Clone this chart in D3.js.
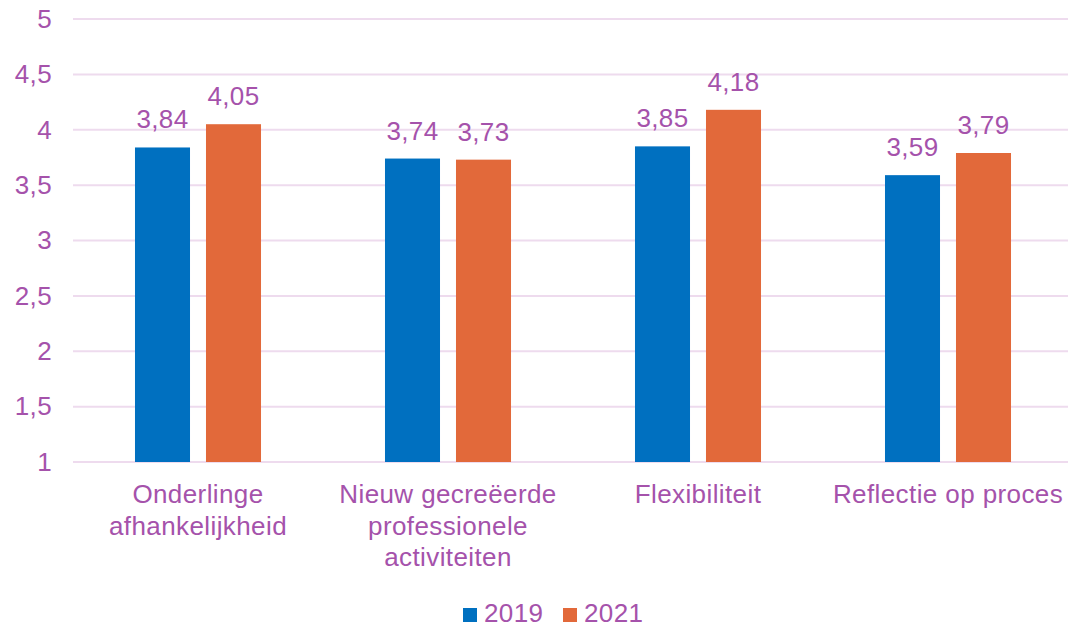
<!DOCTYPE html>
<html>
<head>
<meta charset="utf-8">
<script src="https://cdn.jsdelivr.net/npm/d3@7"></script>
<style>
  body { margin: 0; background: #fff; }
  text { font-family: "Liberation Sans", Arial, sans-serif; fill: #a552ab; letter-spacing: 0.4px; }
</style>
</head>
<body>
<div id="chart-area"></div>
<script>
// data
var categories = [
    ["Onderlinge", "afhankelijkheid"],
    ["Nieuw gecreëerde", "professionele", "activiteiten"],
    ["Flexibiliteit"],
    ["Reflectie op proces"]
];
var series = ["2019", "2021"];
var values2019 = [3.84, 3.74, 3.85, 3.59];
var values2021 = [4.05, 3.73, 4.18, 3.79];
var yTicks = [1, 1.5, 2, 2.5, 3, 3.5, 4, 4.5, 5];

var colors = {"2019": "#0070c0", "2021": "#e2693a"};
var w = 1068, h = 626;

var data = categories.map((c, i) => {
    return {cat: i, vals: [
        {s: "2019", v: values2019[i]},
        {s: "2021", v: values2021[i]}
    ]};
});

var svg = d3.select("#chart-area").append("svg")
    .attr("width", w)
    .attr("height", h);

var x = d3.scaleBand()
    .domain(d3.range(categories.length))
    .range([73, 1073]);

var xs = d3.scaleBand()
    .domain(series)
    .range([0, x.bandwidth()])
    .paddingInner(0.225)
    .paddingOuter(0.873);

var y = d3.scaleLinear()
    .domain([1, 5])
    .range([462, 19]);

var fmt = (d) => { return String(d).replace(".", ","); };

// gridlines
svg.append("g")
    .selectAll("line")
    .data(yTicks)
    .enter().append("line")
    .attr("x1", 73)
    .attr("x2", w)
    .attr("y1", (d) => { return y(d); })
    .attr("y2", (d) => { return y(d); })
    .attr("stroke", "#eedbee")
    .attr("stroke-width", 2);

// y axis labels
var left = d3.axisLeft(y)
    .tickValues(yTicks)
    .tickSize(0)
    .tickPadding(0)
    .tickFormat(fmt);

var y_group = svg.append("g")
    .attr("transform", "translate(52, 0)")
    .call(left);
y_group.select(".domain").remove();
y_group.selectAll("text")
    .attr("font-size", "26px")
    .attr("fill", null)
    .style("font-family", null);

// bars
var groups = svg.append("g")
    .selectAll("g")
    .data(data)
    .enter().append("g")
    .attr("transform", (d) => { return "translate(" + x(d.cat) + ",0)"; });

groups.selectAll("rect")
    .data((d) => { return d.vals; })
    .enter().append("rect")
    .attr("x", (d) => { return xs(d.s); })
    .attr("y", (d) => { return y(d.v); })
    .attr("width", xs.bandwidth())
    .attr("height", (d) => { return y(1) - y(d.v); })
    .attr("fill", (d) => { return colors[d.s]; });

groups.selectAll("text.val")
    .data((d) => { return d.vals; })
    .enter().append("text")
    .attr("class", "val")
    .attr("x", (d) => { return xs(d.s) + xs.bandwidth() / 2; })
    .attr("y", (d) => { return y(d.v) - 19; })
    .attr("text-anchor", "middle")
    .attr("font-size", "26px")
    .text((d) => { return fmt(d.v); });

// category labels
var catLabels = svg.append("g")
    .selectAll("text")
    .data(categories)
    .enter().append("text")
    .attr("x", (d, i) => { return x(i) + x.bandwidth() / 2; })
    .attr("y", 503)
    .attr("text-anchor", "middle")
    .attr("font-size", "26px");

catLabels.selectAll("tspan")
    .data((d) => { return d; })
    .enter().append("tspan")
    .attr("x", function () { return this.parentNode.getAttribute("x"); })
    .attr("dy", (d, i) => { return i === 0 ? 0 : 31.5; })
    .text((d) => { return d; });

// legend
var legend = svg.append("g")
    .attr("transform", "translate(463, 608)");

var item = legend.selectAll("g")
    .data(series)
    .enter().append("g")
    .attr("transform", (d, i) => { return "translate(" + (i * 100) + ",0)"; });

item.append("rect")
    .attr("width", 14)
    .attr("height", 14)
    .attr("fill", (d) => { return colors[d]; });

item.append("text")
    .attr("x", 21)
    .attr("y", 14)
    .attr("font-size", "26px")
    .text((d) => { return d; });
</script>
</body>
</html>
